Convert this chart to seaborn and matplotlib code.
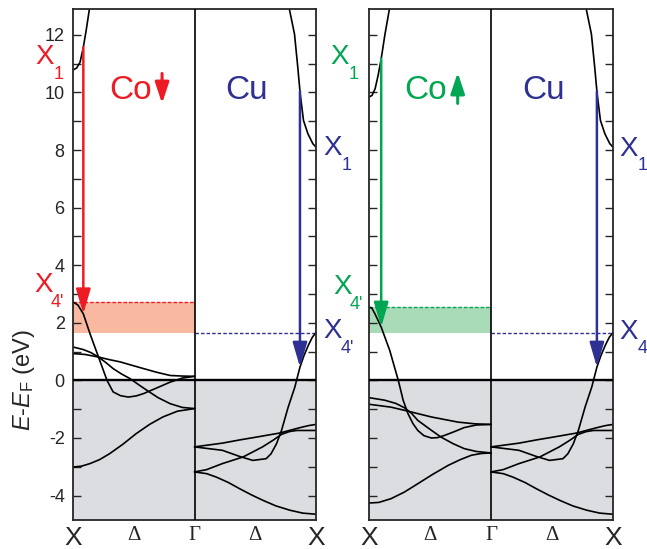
import numpy as np
import pandas as pd
import matplotlib
matplotlib.use("Agg")
import matplotlib.pyplot as plt
import seaborn as sns

# Band energies (eV).
# Co bands: k runs 0 (X) -> 1 (Gamma).  Cu bands: k runs 0 (Gamma) -> 1 (X).

# Co spin down
co_dn_b1_k = [0, 0.04, 0.085, 0.14, 0.21, 0.28, 0.33, 0.39, 0.455, 0.52, 0.58, 0.68, 0.80, 0.90, 1.0]
co_dn_b1_e = [2.72, 2.62, 2.31, 1.62, 0.81, 0.0, -0.40, -0.53, -0.58, -0.54, -0.46, -0.28, -0.06, 0.08, 0.14]
co_dn_b2_k = [0, 0.085, 0.15, 0.21, 0.27, 0.33, 0.40, 0.47, 0.54, 0.61, 0.70, 0.80, 0.90, 1.0]
co_dn_b2_e = [1.16, 1.07, 0.96, 0.81, 0.62, 0.41, 0.22, 0.06, -0.15, -0.35, -0.60, -0.81, -0.94, -0.98]
co_dn_b3_k = [0, 0.10, 0.21, 0.30, 0.39, 0.48, 0.58, 0.69, 0.80, 0.90, 1.0]
co_dn_b3_e = [0.93, 0.90, 0.81, 0.72, 0.64, 0.53, 0.41, 0.28, 0.17, 0.15, 0.14]
co_dn_b4_k = [0, 0.07, 0.14, 0.22, 0.30, 0.41, 0.52, 0.63, 0.74, 0.86, 1.0]
co_dn_b4_e = [-3.01, -2.98, -2.89, -2.75, -2.55, -2.22, -1.85, -1.53, -1.27, -1.07, -0.98]
co_dn_b5_k = [0, 0.03, 0.058, 0.085, 0.11, 0.134, 0.14]
co_dn_b5_e = [10.78, 10.85, 11.05, 11.57, 12.2, 12.87, 13.1]

# Co spin up
co_up_b1_k = [0, 0.025, 0.049, 0.10, 0.17, 0.24, 0.28, 0.32, 0.36, 0.40, 0.45, 0.51, 0.56, 0.62, 0.70, 0.78, 0.88, 1.0]
co_up_b1_e = [2.55, 2.50, 2.31, 1.85, 1.04, 0.0, -0.69, -1.16, -1.50, -1.74, -1.92, -2.0, -1.99, -1.91, -1.78, -1.64, -1.55, -1.53]
co_up_b2_k = [0, 0.13, 0.22, 0.29, 0.35, 0.40, 0.50, 0.59, 0.69, 0.78, 0.88, 1.0]
co_up_b2_e = [-0.60, -0.69, -0.80, -0.95, -1.15, -1.39, -1.70, -1.97, -2.20, -2.37, -2.47, -2.52]
co_up_b3_k = [0, 0.18, 0.32, 0.51, 0.73, 0.87, 1.0]
co_up_b3_e = [-0.83, -0.93, -1.07, -1.27, -1.45, -1.51, -1.53]
co_up_b4_k = [0, 0.08, 0.18, 0.29, 0.40, 0.52, 0.65, 0.75, 0.84, 0.92, 1.0]
co_up_b4_e = [-4.26, -4.24, -4.11, -3.88, -3.59, -3.27, -2.95, -2.75, -2.60, -2.54, -2.52]
co_up_b5_k = [0, 0.025, 0.05, 0.075, 0.10, 0.13, 0.166, 0.18]
co_up_b5_e = [9.84, 9.90, 10.13, 10.60, 11.17, 12.0, 12.87, 13.2]

# Cu (same in both panels)
cu_b1_k = [0, 0.23, 0.37, 0.48, 0.59, 0.63, 0.675, 0.716, 0.771, 0.826, 0.868, 0.90, 0.937, 0.97, 1.0]
cu_b1_e = [-2.31, -2.43, -2.64, -2.78, -2.72, -2.55, -2.20, -1.74, -0.93, -0.23, 0.46, 0.85, 1.22, 1.50, 1.66]
cu_b2_k = [0, 0.23, 0.37, 0.51, 0.70, 0.87, 0.94, 1.0]
cu_b2_e = [-2.31, -2.18, -2.07, -1.97, -1.83, -1.64, -1.57, -1.53]
cu_b3_k = [0, 0.10, 0.23, 0.40, 0.56, 0.65, 0.716, 0.78, 0.84, 0.92, 1.0]
cu_b3_e = [-3.18, -3.10, -2.89, -2.66, -2.31, -2.07, -1.875, -1.78, -1.74, -1.74, -1.74]
cu_b4_k = [0, 0.10, 0.18, 0.28, 0.37, 0.47, 0.565, 0.67, 0.785, 0.89, 1.0]
cu_b4_e = [-3.18, -3.24, -3.36, -3.55, -3.76, -3.98, -4.17, -4.36, -4.51, -4.61, -4.65]
cu_b5_k = [0.775, 0.782, 0.823, 0.85, 0.87, 0.897, 0.933, 0.974, 1.0]
cu_b5_e = [13.1, 12.87, 12.03, 10.88, 9.95, 9.03, 8.57, 8.22, 8.1]

# k of the vertical transitions
k_trans_dn = 0.085
k_trans_up = 0.10
k_trans_cu = 0.868

x_ticks = [0, 0.5, 1, 1.5, 2]
x_labels = ["X", "\u0394", "\u0393", "\u0394", "X"]

RED = "#ed1c24"
BLUE = "#2e3192"
GREEN = "#00a651"
GRAY = "#dcdde0"
YLIM = (-4.85, 12.9)


def band_frame(bands, shift=0.0):
    rows = []
    for i, (k, e) in enumerate(bands):
        for kk, ee in zip(k, e):
            rows.append({"k": kk + shift, "E": ee, "band": i})
    return pd.DataFrame(rows)


def label_x(ax, x, y, sub, color):
    # big X with a subscript placed below-right
    ax.text(x, y, "X", color=color, fontsize=20, ha="center", va="center")
    ax.annotate(sub, xy=(x, y), xytext=(10, -12), textcoords="offset points",
                color=color, fontsize=13, ha="center", va="center",
                annotation_clip=False)


def vertical_arrow(ax, k, e_top, e_bot, color):
    ax.annotate("", xy=(k, e_bot), xytext=(k, e_top),
                arrowprops=dict(arrowstyle="-|>,head_length=0.75,head_width=0.22",
                                color=color, lw=1.8, mutation_scale=20,
                                shrinkA=0, shrinkB=0))


def draw_panel(ax, co_bands, co_color, k_co, spin_down):
    co_df = band_frame(co_bands)
    cu_df = band_frame([(cu_b1_k, cu_b1_e), (cu_b2_k, cu_b2_e), (cu_b3_k, cu_b3_e),
                        (cu_b4_k, cu_b4_e), (cu_b5_k, cu_b5_e)], shift=1.0)

    co_x4 = co_bands[0][1][0]
    cu_x4 = cu_b1_e[-1]
    band_fill = "#f8b9a0" if spin_down else "#a9dbb8"

    ax.axhspan(YLIM[0], 0, color=GRAY, lw=0, zorder=0)
    ax.axhspan(cu_x4, co_x4, xmin=0, xmax=0.5, color=band_fill, lw=0, zorder=0.5)
    ax.hlines(co_x4, 0, 1, colors=co_color, linestyles=(0, (2.5, 1.5)), lw=1.0, zorder=1)
    ax.hlines(cu_x4, 1, 2, colors=BLUE, linestyles=(0, (2.5, 1.5)), lw=1.0, zorder=1)

    sns.lineplot(data=co_df, x="k", y="E", units="band", estimator=None, sort=False,
                 color="black", lw=1.2, ax=ax, zorder=2)
    sns.lineplot(data=cu_df, x="k", y="E", units="band", estimator=None, sort=False,
                 color="black", lw=1.2, ax=ax, zorder=2)

    ax.axhline(0, color="black", lw=1.7, zorder=3)
    ax.axvline(1, color="black", lw=1.2, zorder=3)

    # transitions
    top_k, top_e = co_bands[4]
    low_k, low_e = co_bands[0]
    vertical_arrow(ax, k_co, np.interp(k_co, top_k, top_e), np.interp(k_co, low_k, low_e), co_color)
    kc = 1 + k_trans_cu
    vertical_arrow(ax, kc, np.interp(k_trans_cu, cu_b5_k, cu_b5_e),
                   np.interp(k_trans_cu, cu_b1_k, cu_b1_e), BLUE)

    ax.set_xlim(0, 2)
    ax.set_ylim(*YLIM)
    ax.set_xticks(x_ticks)
    ax.set_xticklabels(x_labels)
    for lab in ax.get_xticklabels():
        if lab.get_text() == "X":
            lab.set_fontsize(19)
        else:
            lab.set_fontsize(15)
            lab.set_fontfamily("Liberation Serif")
    ax.set_yticks(range(-4, 13, 2))
    ax.set_yticks(range(-4, 13, 1), minor=True)
    ax.tick_params(axis="y", which="both", direction="in", left=True, right=True,
                   length=6, width=1.0, labelsize=13, pad=6)
    ax.tick_params(axis="x", length=0, pad=4)
    for sp in ax.spines.values():
        sp.set_linewidth(1.3)
        sp.set_visible(True)
    ax.set_xlabel("")
    ax.set_ylabel("")


sns.set_style("ticks")
plt.rcParams["font.family"] = ["Liberation Sans", "DejaVu Sans"]
plt.rcParams["mathtext.fontset"] = "custom"
plt.rcParams["mathtext.rm"] = "Liberation Sans"
plt.rcParams["mathtext.it"] = "Liberation Sans:italic"
plt.rcParams["axes.unicode_minus"] = False

fig = plt.figure(figsize=(6.47, 5.49), dpi=100)
ax_l = fig.add_axes([73 / 647, 1 - 520 / 549, 243 / 647, 511 / 549])
ax_r = fig.add_axes([369 / 647, 1 - 520 / 549, 244 / 647, 511 / 549])

co_dn = [(co_dn_b1_k, co_dn_b1_e), (co_dn_b2_k, co_dn_b2_e), (co_dn_b3_k, co_dn_b3_e),
         (co_dn_b4_k, co_dn_b4_e), (co_dn_b5_k, co_dn_b5_e)]
co_up = [(co_up_b1_k, co_up_b1_e), (co_up_b2_k, co_up_b2_e), (co_up_b3_k, co_up_b3_e),
         (co_up_b4_k, co_up_b4_e), (co_up_b5_k, co_up_b5_e)]

draw_panel(ax_l, co_dn, RED, k_trans_dn, True)
draw_panel(ax_r, co_up, GREEN, k_trans_up, False)
ax_r.tick_params(labelleft=False)

# left panel labels
label_x(ax_l, -0.23, 11.22, "1", RED)
label_x(ax_l, -0.24, 3.30, "4'", RED)
label_x(ax_l, 2.14, 8.06, "1", BLUE)
label_x(ax_l, 2.14, 1.70, "4'", BLUE)
ax_l.text(0.47, 10.07, "Co", color=RED, fontsize=24, ha="center", va="center")
ax_l.text(1.43, 10.07, "Cu", color=BLUE, fontsize=24, ha="center", va="center")
ax_l.annotate("", xy=(0.733, 9.62), xytext=(0.733, 10.66),
              arrowprops=dict(arrowstyle="-|>,head_length=0.9,head_width=0.3",
                              color=RED, lw=2.2, mutation_scale=14, shrinkA=0, shrinkB=0))

# right panel labels
label_x(ax_r, -0.237, 11.22, "1", GREEN)
label_x(ax_r, -0.22, 3.23, "4'", GREEN)
label_x(ax_r, 2.13, 8.03, "1", BLUE)
label_x(ax_r, 2.13, 1.67, "4", BLUE)
ax_r.text(0.465, 10.07, "Co", color=GREEN, fontsize=24, ha="center", va="center")
ax_r.text(1.43, 10.07, "Cu", color=BLUE, fontsize=24, ha="center", va="center")
ax_r.annotate("", xy=(0.727, 10.69), xytext=(0.727, 9.62),
              arrowprops=dict(arrowstyle="-|>,head_length=0.9,head_width=0.3",
                              color=GREEN, lw=2.2, mutation_scale=14, shrinkA=0, shrinkB=0))

ax_l.set_ylabel(r"$\mathit{E}$-$\mathit{E}_{\mathrm{F}}$ (eV)", fontsize=17)
ax_l.yaxis.set_label_coords(-0.15, (0 - YLIM[0]) / (YLIM[1] - YLIM[0]))

fig.savefig("out.png", dpi=100)
